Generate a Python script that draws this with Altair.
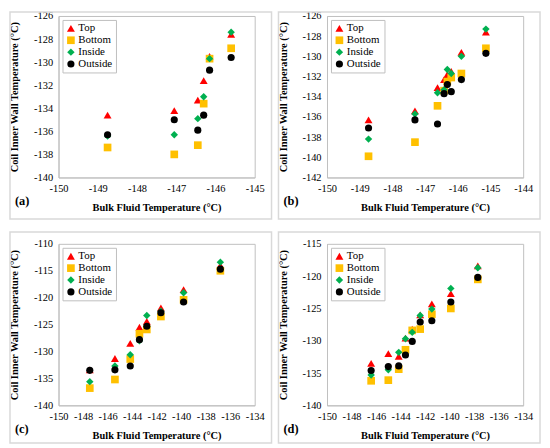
import altair as alt
import pandas as pd

SERIES = ["Top", "Bottom", "Inside", "Outside"]
SHAPES = ["triangle-up", "square", "diamond", "circle"]
COLORS = ["#FF0000", "#FFC000", "#00B050", "#000000"]
SIZES = [64, 52, 45, 52]

W, H = 198, 163
FONT = "Liberation Serif"

# (a)
x_a = [-148.75, -147.05, -146.45, -146.3, -146.15, -145.6]
top_a = [-134.6, -134.2, -133.3, -131.6, -129.5, -127.6]
bottom_a = [-137.4, -138.0, -137.2, -133.6, -129.7, -128.8]
inside_a = [-136.4, -136.3, -134.9, -133.0, -129.7, -127.4]
outside_a = [-136.3, -135.0, -135.9, -134.6, -130.7, -129.6]
xticks_a = [-150, -149, -148, -147, -146, -145]
yticks_a = [-140, -138, -136, -134, -132, -130, -128, -126]

# (b)
x_b = [-148.73, -147.31, -146.62, -146.42, -146.32, -146.2, -145.89, -145.14]
top_b = [-136.3, -135.4, -133.1, -132.3, -131.8, -131.5, -129.6, -127.6]
bottom_b = [-139.9, -138.5, -134.9, -133.4, -132.5, -132.1, -131.7, -129.2]
inside_b = [-138.2, -135.7, -133.6, -133.3, -131.3, -131.7, -130.0, -127.3]
outside_b = [-137.1, -136.3, -136.7, -133.7, -132.8, -133.5, -132.3, -129.7]
xticks_b = [-150, -149, -148, -147, -146, -145, -144]
yticks_b = [-142, -140, -138, -136, -134, -132, -130, -128, -126]

# (c)
x_c = [-147.45, -145.4, -144.15, -143.4, -142.8, -141.65, -139.8, -136.8]
top_c = [-133.4, -131.3, -128.5, -125.5, -124.4, -121.9, -118.5, -114.0]
bottom_c = [-136.8, -135.2, -131.4, -126.7, -125.9, -123.5, -120.4, -115.0]
inside_c = [-135.6, -132.7, -130.6, -128.0, -123.3, -122.5, -119.1, -113.4]
outside_c = [-133.5, -133.4, -132.7, -127.8, -125.3, -122.8, -120.8, -114.7]
xticks_c = [-150, -148, -146, -144, -142, -140, -138, -136, -134]
yticks_c = [-140, -135, -130, -125, -120, -115, -110]

# (d)
x_d = [-146.4, -145.0, -144.15, -143.6, -143.05, -142.4, -141.45, -139.9, -137.7]
top_d = [-133.5, -132.0, -132.4, -129.6, -128.2, -126.0, -124.3, -122.7, -118.4]
bottom_d = [-136.2, -136.1, -134.4, -131.4, -128.4, -128.2, -125.9, -125.0, -120.5]
inside_d = [-135.3, -134.5, -131.8, -129.7, -128.7, -126.1, -125.1, -121.9, -118.7]
outside_d = [-134.6, -134.0, -133.9, -132.2, -130.1, -127.1, -126.9, -124.0, -120.2]
xticks_d = [-150, -148, -146, -144, -142, -140, -138, -136, -134]
yticks_d = [-140, -135, -130, -125, -120, -115]


def panel(x, top, bottom, inside, outside, xticks, yticks, tag, frame_top, frame_bottom):
    rows = []
    for name, vals in zip(SERIES, [top, bottom, inside, outside]):
        for xv, yv in zip(x, vals):
            rows.append({"bulk": xv, "wall": yv, "loc": name})
    df = pd.DataFrame(rows)

    points = alt.Chart(df).mark_point(filled=True, opacity=1, strokeWidth=0).encode(
        x=alt.X("bulk:Q",
                scale=alt.Scale(domain=[xticks[0], xticks[-1]], nice=False, zero=False),
                axis=alt.Axis(values=xticks, title="Bulk Fluid Temperature (°C)",
                              labelExpr="'' + datum.value", titleY=30,
                              titleBaseline="middle")),
        y=alt.Y("wall:Q",
                scale=alt.Scale(domain=[yticks[0], yticks[-1]], nice=False, zero=False),
                axis=alt.Axis(values=yticks, title="Coil Inner Wall Temperature (°C)",
                              labelExpr="'' + datum.value", titleX=-44,
                              titleBaseline="middle")),
        color=alt.Color("loc:N", title=None,
                        scale=alt.Scale(domain=SERIES, range=COLORS)),
        shape=alt.Shape("loc:N", title=None,
                        scale=alt.Scale(domain=SERIES, range=SHAPES)),
        size=alt.Size("loc:N", title=None,
                      scale=alt.Scale(domain=SERIES, range=SIZES)),
        order=alt.Order("rank:Q"),
    ).transform_calculate(
        rank="indexof(['Top','Bottom','Inside','Outside'], datum.loc)"
    )

    # light frame round the whole panel
    box = alt.Chart(pd.DataFrame({"tag": [tag]})).mark_rect(
        fill="white", fillOpacity=0, stroke="#d9d9d9", strokeWidth=1.5
    ).encode(
        x=alt.value(-49), x2=alt.value(W + 17),
        y=alt.value(-frame_top), y2=alt.value(H + frame_bottom)
    )

    label = alt.Chart(pd.DataFrame({"tag": [tag]})).mark_text(
        align="left", baseline="middle", font=FONT, fontSize=12.5, fontWeight="bold"
    ).encode(
        x=alt.value(-44), y=alt.value(H + 24), text="tag:N"
    )

    return alt.layer(box, points, label).properties(width=W, height=H)


pa = panel(x_a, top_a, bottom_a, inside_a, outside_a, xticks_a, yticks_a, "(a)", 4, 42)
pb = panel(x_b, top_b, bottom_b, inside_b, outside_b, xticks_b, yticks_b, "(b)", 4, 42)
pc = panel(x_c, top_c, bottom_c, inside_c, outside_c, xticks_c, yticks_c, "(c)", 12, 38)
pd_ = panel(x_d, top_d, bottom_d, inside_d, outside_d, xticks_d, yticks_d, "(d)", 12, 38)


def indep(ch):
    return ch.resolve_scale(
        x="independent", y="independent", color="independent",
        shape="independent", size="independent"
    ).resolve_legend(color="independent", shape="independent", size="independent")


top_row = indep(alt.hconcat(pa, pb, spacing=3))
bottom_row = indep(alt.hconcat(pc, pd_, spacing=3))

chart = indep(alt.vconcat(top_row, bottom_row, spacing=9)).properties(
    padding=0, background="white"
).configure(
    font=FONT
).configure_view(
    stroke="#bfbfbf", strokeWidth=1
).configure_axis(
    labelFont=FONT, labelFontSize=10.5, labelColor="black", labelPadding=6,
    titleFont=FONT, titleFontSize=10.5, titleFontWeight="bold", titleColor="black",
    ticks=False, grid=False, domainColor="#bfbfbf", labelOverlap=False,
    labelFlush=False
).configure_legend(
    orient="top-left", offset=4, fillColor="white", strokeColor="#bfbfbf",
    padding=3, labelFont=FONT, labelFontSize=11, labelColor="black",
    labelOffset=2, rowPadding=0, symbolStrokeWidth=0, cornerRadius=0
)

chart.save("out.html", embed_options={"renderer": "svg", "actions": False})
